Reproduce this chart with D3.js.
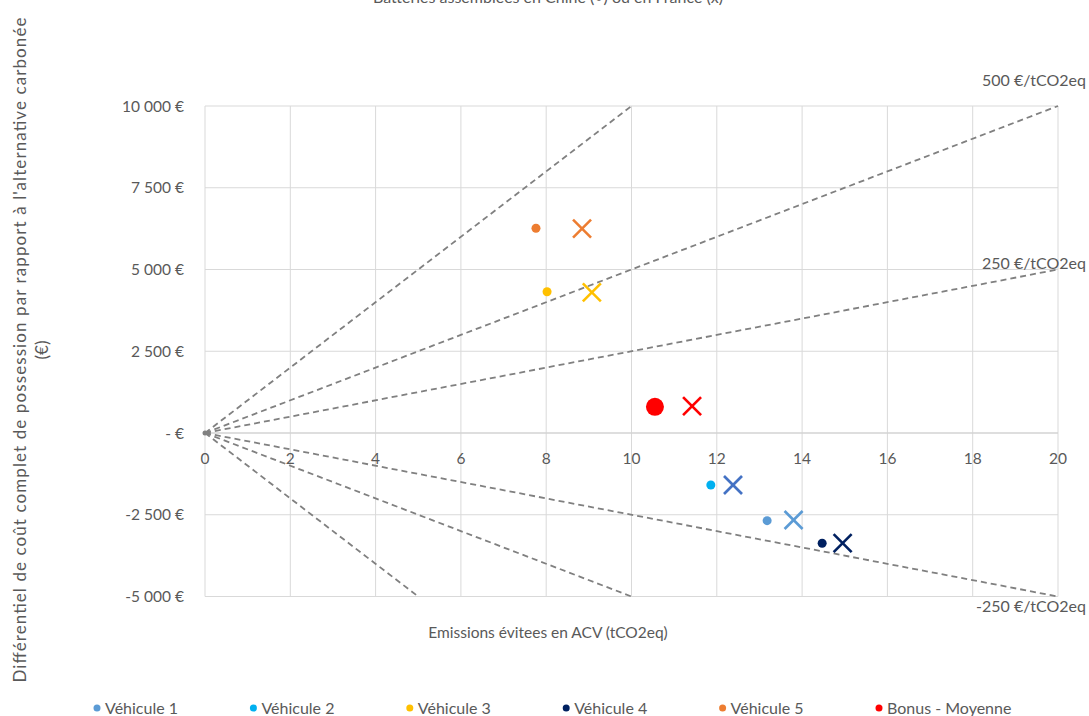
<!DOCTYPE html>
<html><head><meta charset="utf-8">
<script src="https://cdn.jsdelivr.net/npm/d3@7"></script>
<style>body{margin:0;background:#fff}text{font-family:Lato,"Open Sans",sans-serif;fill:#595959}</style>
</head><body><svg id="c" width="1089" height="716"></svg>
<script>
const seriesNames = ["Véhicule 1","Véhicule 2","Véhicule 3","Véhicule 4","Véhicule 5","Bonus - Moyenne"];
const dotColors = ["#5B9BD5","#00B0F0","#FFC000","#002060","#ED7D31","#FF0000"];
const crossColors = ["#5B9BD5","#4472C4","#FFC000","#002060","#ED7D31","#FF0000"];
const chinaX = [13.18, 11.86, 8.02, 14.47, 7.76, 10.55];
const chinaY = [-2680, -1590, 4320, -3370, 6260, 800];
const franceX = [13.80, 12.38, 9.07, 14.95, 8.84, 11.42];
const franceY = [-2660, -1590, 4300, -3370, 6250, 820];
const priceSlopes = [1000, 500, 250, -250, -500, -1000];
const priceLabels = [{slope:500,text:"500 €/tCO2eq",dy:-20},{slope:250,text:"250 €/tCO2eq",dy:-1},{slope:-250,text:"-250 €/tCO2eq",dy:15}];
const xTicks = [0,2,4,6,8,10,12,14,16,18,20];
const yTicks = [-5000,-2500,0,2500,5000,7500,10000];
const yTickLabels = ["-5 000 €","-2 500 €","-   €","2 500 €","5 000 €","7 500 €","10 000 €"];

const svg = d3.select("#c");
const x = d3.scaleLinear().domain([0,20]).range([205,1058]);
const y = d3.scaleLinear().domain([-5000,10000]).range([596.5,106]);

// title (cut at top, as in the original)
svg.append("text").attr("x",548).attr("y",3).attr("text-anchor","middle").style("font-size","16px")
  .text("Batteries assemblées en Chine (•) ou en France (x)");

// grid
const g = svg.append("g");
g.selectAll(".vg").data(xTicks).join("line").attr("x1",d=>x(d)).attr("x2",d=>x(d))
  .attr("y1",y(10000)).attr("y2",y(-5000)).attr("stroke","#d9d9d9").attr("stroke-width",1);
g.selectAll(".hg").data(yTicks).join("line").attr("x1",x(0)).attr("x2",x(20))
  .attr("y1",d=>y(d)).attr("y2",d=>y(d)).attr("stroke","#d9d9d9").attr("stroke-width",1);
g.append("line").attr("x1",x(0)).attr("x2",x(20)).attr("y1",y(0)).attr("y2",y(0)).attr("stroke","#d0d0d0");

// y tick labels
svg.selectAll(".yt").data(yTicks).join("text").attr("x",184).attr("y",d=>y(d)+5.5)
  .attr("text-anchor","end").style("font-size","15.5px").text((d,i)=>yTickLabels[i]);
// x tick labels
svg.selectAll(".xt").data(xTicks).join("text").attr("x",d=>x(d)).attr("y",y(0)+31)
  .attr("text-anchor","middle").style("font-size","15.5px").text(d=>d);

// price lines
const clipEnd = s => {
  let xe = 20, ye = s*20;
  if (ye > 10000) { ye = 10000; xe = 10000/s; }
  if (ye < -5000) { ye = -5000; xe = -5000/s; }
  return [xe, ye];
};
svg.selectAll(".pl").data(priceSlopes).join("line")
  .attr("x1",x(0)).attr("y1",y(0))
  .attr("x2",d=>x(clipEnd(d)[0])).attr("y2",d=>y(clipEnd(d)[1]))
  .attr("stroke","#808080").attr("stroke-width",1.8).attr("stroke-dasharray","6,4");
svg.append("circle").attr("cx",x(0)).attr("cy",y(0)).attr("r",2.5).attr("fill","#808080");

// line labels
svg.selectAll(".ll").data(priceLabels).join("text")
  .attr("x",1086).attr("y",d=>y(d.slope*20) + d.dy)
  .attr("text-anchor","end").style("font-size","16px").text(d=>d.text);

// China dots
svg.selectAll(".dot").data(seriesNames).join("circle")
  .attr("cx",(d,i)=>x(chinaX[i])).attr("cy",(d,i)=>y(chinaY[i]))
  .attr("r",(d,i)=>i===5?9:4.5).attr("fill",(d,i)=>dotColors[i]);
// France crosses
const cs = 9;
seriesNames.forEach((d,i)=>{
  const cx = x(franceX[i]), cy = y(franceY[i]);
  const gg = svg.append("g").attr("stroke",crossColors[i]).attr("stroke-width",2.6);
  gg.append("line").attr("x1",cx-cs).attr("y1",cy-cs).attr("x2",cx+cs).attr("y2",cy+cs);
  gg.append("line").attr("x1",cx-cs).attr("y1",cy+cs).attr("x2",cx+cs).attr("y2",cy-cs);
});

// axis titles
svg.append("text").attr("x",548).attr("y",638).attr("text-anchor","middle").style("font-size","15.5px")
  .text("Emissions évitees en ACV (tCO2eq)");
const yt = svg.append("text").attr("transform","translate(26,350) rotate(-90)").attr("text-anchor","middle").style("font-size","17px");
yt.append("tspan").attr("x",0).attr("y",0).attr("textLength",665).attr("lengthAdjust","spacing")
  .text("Différentiel de coût complet de possession  par rapport à l'alternative carbonée");
yt.append("tspan").attr("x",0).attr("y",22).text("(€)");

// legend
const lg = svg.selectAll(".lg").data(seriesNames).join("g").attr("transform",(d,i)=>`translate(${97+i*156.4},708)`);
lg.append("circle").attr("r",3.5).attr("fill",(d,i)=>dotColors[i]);
lg.append("text").attr("x",8).attr("y",5.5).style("font-size","16px").text(d=>d);
</script></body></html>
